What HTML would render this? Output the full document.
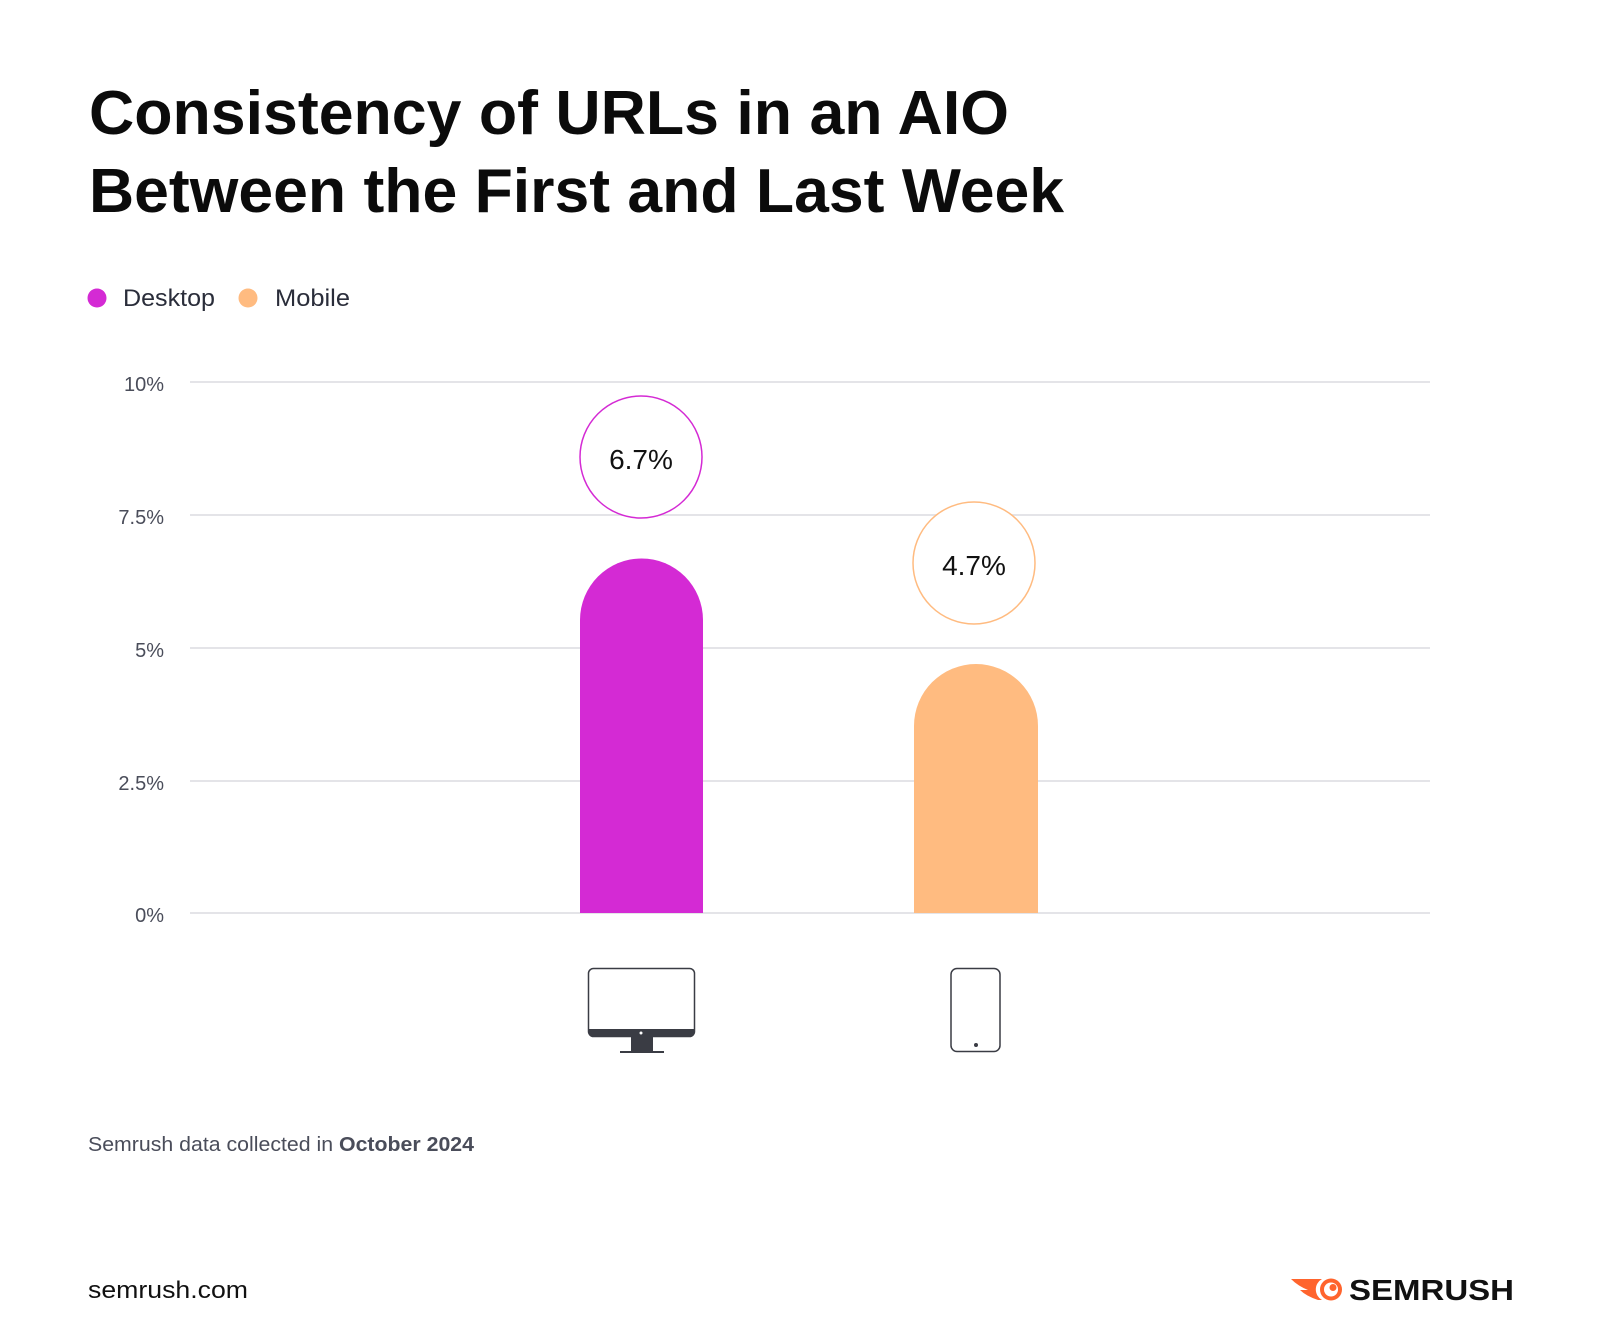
<!DOCTYPE html>
<html><head><meta charset="utf-8"><style>
html,body{margin:0;padding:0;background:#fff;}
body{width:1600px;height:1334px;position:relative;overflow:hidden;font-family:"Liberation Sans",sans-serif;}
</style></head><body>
<svg width="1600" height="1334" viewBox="0 0 1600 1334" xmlns="http://www.w3.org/2000/svg" style="position:absolute;left:0;top:0">
<g font-family="Liberation Sans, sans-serif">
<text x="89" y="134" font-size="62" font-weight="bold" fill="#0b0b0b" textLength="920" lengthAdjust="spacingAndGlyphs">Consistency of URLs in an AIO</text>
<text x="89" y="212" font-size="62" font-weight="bold" fill="#0b0b0b" textLength="975" lengthAdjust="spacingAndGlyphs">Between the First and Last Week</text>

<circle cx="97" cy="298" r="9.5" fill="#d42ad4"/>
<text x="123" y="306" font-size="24" fill="#2a2d3a" textLength="92" lengthAdjust="spacingAndGlyphs">Desktop</text>
<circle cx="248" cy="298" r="9.5" fill="#ffbb80"/>
<text x="275" y="306" font-size="24" fill="#2a2d3a" textLength="75" lengthAdjust="spacingAndGlyphs">Mobile</text>

<g stroke="#e4e4e8" stroke-width="2">
<line x1="190" y1="382" x2="1430" y2="382"/>
<line x1="190" y1="515" x2="1430" y2="515"/>
<line x1="190" y1="648" x2="1430" y2="648"/>
<line x1="190" y1="781" x2="1430" y2="781"/>
<line x1="190" y1="913" x2="1430" y2="913"/>
</g>
<g font-size="20" fill="#4a4d5a" text-anchor="end">
<text x="164" y="391">10%</text>
<text x="164" y="524">7.5%</text>
<text x="164" y="657">5%</text>
<text x="164" y="790">2.5%</text>
<text x="164" y="922">0%</text>
</g>

<path d="M580 913 V620 A61.5 61.5 0 0 1 703 620 V913 Z" fill="#d42ad4"/>
<path d="M914 913 V726 A62 62 0 0 1 1038 726 V913 Z" fill="#ffbb80"/>

<circle cx="641" cy="457" r="61" fill="#fff" stroke="#d42ad4" stroke-width="1.5"/>
<text x="641" y="469" font-size="28" text-anchor="middle" fill="#111">6.7%</text>
<circle cx="974" cy="563" r="61" fill="#fff" stroke="#ffbb80" stroke-width="1.5"/>
<text x="974" y="575" font-size="28" text-anchor="middle" fill="#111">4.7%</text>

<rect x="588.5" y="968.5" width="106" height="68" rx="5" fill="#fff" stroke="#3a3c44" stroke-width="1.5"/>
<path d="M588.5 1029 H694.5 V1031 a6 6 0 0 1 -6 6 H594.5 a6 6 0 0 1 -6 -6 Z" fill="#3a3c44"/>
<circle cx="641" cy="1033" r="1.5" fill="#fff"/>
<rect x="631" y="1037" width="22" height="14" fill="#3a3c44"/>
<rect x="620" y="1051" width="44" height="2" fill="#3a3c44"/>

<rect x="951" y="968.5" width="49" height="83" rx="6" fill="#fff" stroke="#3a3c44" stroke-width="1.5"/>
<circle cx="976" cy="1045" r="2" fill="#3a3c44"/>

<text x="88" y="1151" font-size="20" fill="#4a4d5a" textLength="386" lengthAdjust="spacingAndGlyphs">Semrush data collected in <tspan font-weight="bold">October 2024</tspan></text>
<text x="88" y="1298" font-size="24" fill="#111" textLength="160" lengthAdjust="spacingAndGlyphs">semrush.com</text>

<g>
<path d="M1291 1279 L1322 1279 A12 12 0 0 0 1322 1300 L1318 1300 Q1306 1296 1300 1290 L1308 1290 Q1298 1286 1291 1279 Z" fill="#ff642d"/>
<circle cx="1331" cy="1289.5" r="11" fill="#ff642d"/>
<circle cx="1331" cy="1289.5" r="7" fill="#fff"/>
<circle cx="1333" cy="1287.5" r="3.5" fill="#ff642d"/>
<text x="1349" y="1300" font-size="29" font-weight="bold" fill="#111" textLength="165" lengthAdjust="spacingAndGlyphs">SEMRUSH</text>
</g>
</g>
</svg>
</body></html>
